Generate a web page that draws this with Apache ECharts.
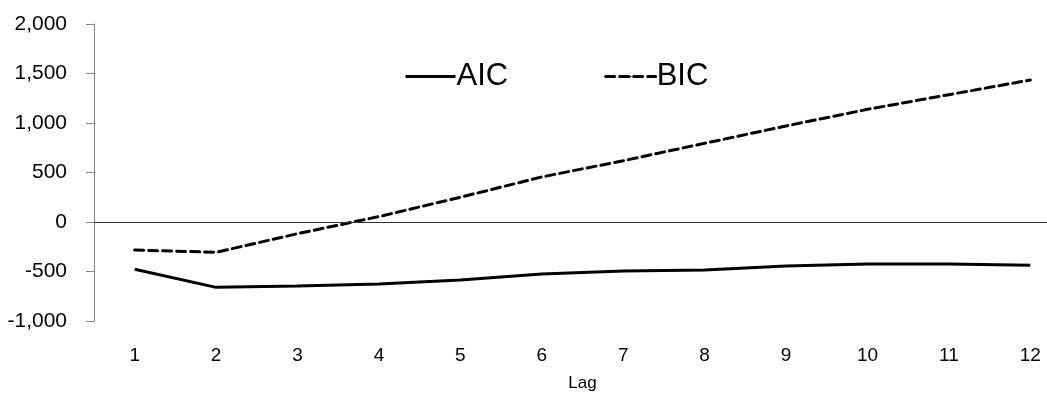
<!DOCTYPE html>
<html>
<head>
<meta charset="utf-8">
<script src="https://cdn.jsdelivr.net/npm/echarts@6/dist/echarts.min.js"></script>
<style>
  html, body { margin: 0; padding: 0; background: #fff; }
  #main { width: 1047px; height: 398px; }
</style>
</head>
<body>
<div id="main"></div>
<script>
// lag orders
var lags = ['1', '2', '3', '4', '5', '6', '7', '8', '9', '10', '11', '12'];
// information criteria
var aic = [-478, -660, -646, -626, -586, -525, -495, -485, -444, -425, -423, -436];
var bic = [-283, -306, -118, 55, 250, 455, 619, 795, 970, 1138, 1286, 1434];
// y axis ticks
var yTicks = [-1000, -500, 0, 500, 1000, 1500, 2000];

var chart = echarts.init(document.getElementById('main'));

var font = '"Liberation Sans", Arial, sans-serif';

var option = {
  animation: false,
  backgroundColor: '#fff',
  textStyle: { fontFamily: font },
  grid: { left: 94, top: 24, width: 977, height: 297, containLabel: false, outerBoundsMode: 'none' },
  legend: {
    left: 399,
    top: 56,
    itemWidth: 50,
    itemHeight: 2,
    itemGap: 96,
    lineStyle: { width: 3 },
    textStyle: { fontFamily: font, fontSize: 31, color: '#000', padding: [0, 0, 0, -4] },
    data: ['AIC', 'BIC']
  },
  xAxis: {
    type: 'category',
    data: lags,
    boundaryGap: true,
    axisLine: { show: false },
    axisTick: { show: false },
    axisLabel: { fontSize: 19, color: '#000', margin: 25, fontFamily: font },
    name: 'Lag',
    nameLocation: 'middle',
    nameGap: 54,
    nameTextStyle: { fontSize: 17, color: '#000', fontFamily: font }
  },
  yAxis: {
    type: 'value',
    min: yTicks[0],
    max: yTicks[yTicks.length - 1],
    interval: 500,
    splitLine: { show: false },
    axisLine: { show: true, lineStyle: { color: '#868686', width: 1 } },
    axisTick: { show: true, length: 8, lineStyle: { color: '#868686' } },
    axisLabel: {
      fontSize: 21,
      color: '#000',
      margin: 27,
      fontFamily: font,
      formatter: function (v) { return v.toLocaleString('en-US'); }
    }
  },
  series: [
    {
      name: 'AIC',
      type: 'line',
      data: aic,
      symbol: 'none',
      lineStyle: { color: '#000', width: 3, type: 'solid' },
      itemStyle: { color: '#000' },
      markLine: {
        silent: true,
        symbol: 'none',
        label: { show: false },
        lineStyle: { color: '#333', width: 1, type: 'solid' },
        data: [{ yAxis: 0 }]
      }
    },
    {
      name: 'BIC',
      type: 'line',
      data: bic,
      symbol: 'none',
      lineStyle: { color: '#000', width: 3, type: [9, 5], cap: 'round' },
      itemStyle: { color: '#000' }
    }
  ]
};

chart.setOption(option);
</script>
</body>
</html>
